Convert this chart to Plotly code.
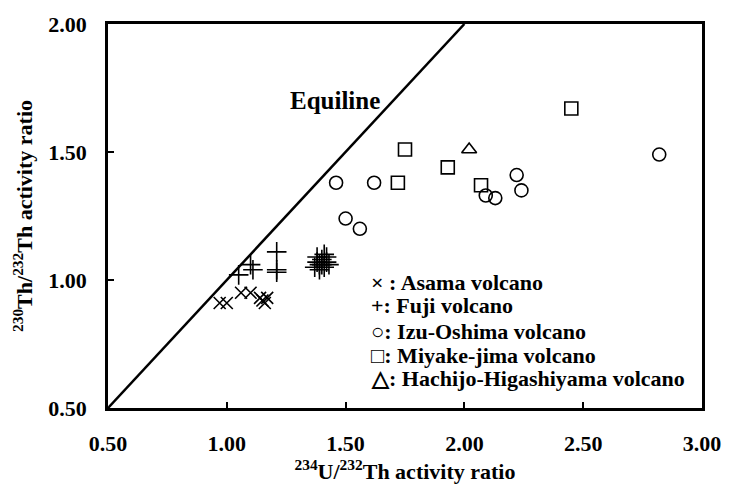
import plotly.graph_objects as go

# U-Th activity ratios for each volcano
asama_u = [0.97, 1.00, 1.06, 1.10, 1.14, 1.15, 1.16, 1.17]
asama_th = [0.91, 0.91, 0.95, 0.95, 0.93, 0.92, 0.91, 0.93]

fuji_u = [1.05, 1.10, 1.11, 1.21, 1.21, 1.21,
          1.37, 1.38, 1.38, 1.39, 1.39, 1.40, 1.40, 1.41, 1.41, 1.42, 1.42, 1.43]
fuji_th = [1.02, 1.06, 1.04, 1.11, 1.04, 1.03,
           1.05, 1.07, 1.09, 1.04, 1.06, 1.06, 1.08, 1.10, 1.05, 1.07, 1.09, 1.06]

izu_u = [1.46, 1.50, 1.56, 1.62, 2.09, 2.13, 2.22, 2.24, 2.82]
izu_th = [1.38, 1.24, 1.20, 1.38, 1.33, 1.32, 1.41, 1.35, 1.49]

miyake_u = [1.72, 1.75, 1.93, 2.07, 2.45]
miyake_th = [1.38, 1.51, 1.44, 1.37, 1.67]

hachijo_u = [2.02]
hachijo_th = [1.51]

equiline = [0.50, 2.00]

x_ticks = [0.5, 1.0, 1.5, 2.0, 2.5, 3.0]
x_tick_text = ["0.50", "1.00", "1.50", "2.00", "2.50", "3.00"]
y_ticks = [0.5, 1.0, 1.5, 2.0]
y_tick_text = ["0.50", "1.00", "1.50", "2.00"]

legend_lines = [
    "\u00d7 : Asama volcano",
    "+: Fuji volcano",
    "\u25cb: Izu-Oshima volcano",
    "\u25a1: Miyake-jima volcano",
    "\u25b3: Hachijo-Higashiyama volcano",
]

FONT = "Liberation Serif"
TXT = dict(family=FONT, size=22, color="black", weight="bold")

fig = go.Figure()

fig.add_trace(go.Scatter(x=equiline, y=equiline, mode="lines",
                         line=dict(color="black", width=2.5),
                         hoverinfo="skip", showlegend=False))

series = [
    (asama_u, asama_th, "x-thin-open", 12),
    (fuji_u, fuji_th, "cross-thin-open", 14),
    (izu_u, izu_th, "circle-open", 13),
    (miyake_u, miyake_th, "square-open", 13),
    (hachijo_u, hachijo_th, "triangle-up-open", 13),
]
for xs, ys, sym, size in series:
    fig.add_trace(go.Scatter(
        x=xs, y=ys, mode="markers", showlegend=False,
        marker=dict(symbol=sym, size=size, color="black",
                    line=dict(color="black", width=1.6)),
    ))

fig.add_annotation(x=1.655, y=1.70, xref="x", yref="y", text="Equiline",
                   showarrow=False, xanchor="right", yanchor="middle",
                   font=dict(family=FONT, size=25, color="black", weight="bold"))

legend_y = [0.99, 0.90, 0.80, 0.705, 0.615]
for txt, yy in zip(legend_lines, legend_y):
    fig.add_annotation(x=1.60, y=yy, xref="x", yref="y", text=txt,
                       showarrow=False, xanchor="left", yanchor="middle",
                       font=TXT)

fig.update_xaxes(
    range=[0.5, 3.0], tickvals=x_ticks, ticktext=x_tick_text,
    ticks="inside", ticklen=6, tickwidth=2, tickcolor="black",
    showline=True, linewidth=2.5, linecolor="black", mirror=True,
    showgrid=False, zeroline=False,
    tickfont=TXT, ticklabelstandoff=14, ticklabeloverflow="allow",
    title=dict(text="<sup>234</sup>U/<sup>232</sup>Th activity ratio",
               font=TXT, standoff=6),
)
fig.update_yaxes(
    range=[0.5, 2.0], tickvals=y_ticks, ticktext=y_tick_text,
    ticks="inside", ticklen=6, tickwidth=2, tickcolor="black",
    showline=True, linewidth=2.5, linecolor="black", mirror=True,
    showgrid=False, zeroline=False,
    tickfont=TXT, ticklabelstandoff=14, ticklabeloverflow="allow",
    title=dict(text="<sup>230</sup>Th/<sup>232</sup>Th activity ratio",
               font=TXT, standoff=10),
)

fig.update_layout(
    width=733, height=490,
    margin=dict(l=108, r=20, t=20, b=72),
    paper_bgcolor="white", plot_bgcolor="white",
)

fig.write_html("out.html")
